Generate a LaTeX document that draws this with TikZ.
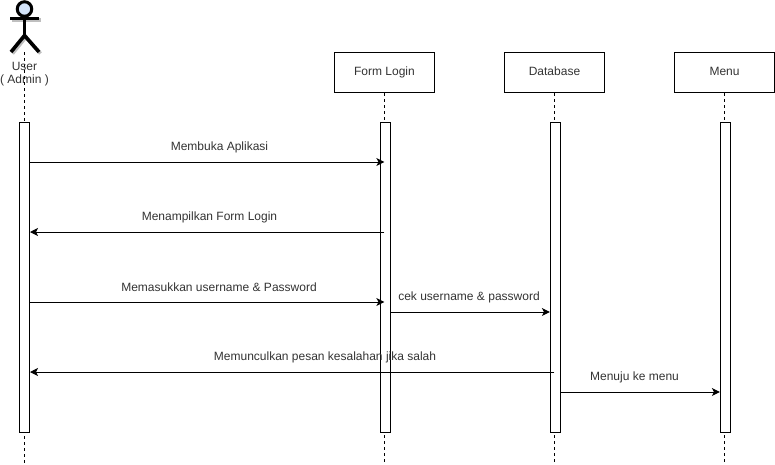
\documentclass[tikz,border=0pt]{standalone}
\usepackage{fontspec}
\setmainfont{Liberation Sans}
\usetikzlibrary{arrows.meta}

\definecolor{headblue}{HTML}{D4E4FA}
\definecolor{labelgray}{HTML}{333333}

\tikzset{
	objbox/.style={draw, line width=1pt, minimum width=100pt, minimum height=40pt, inner sep=0pt, text=labelgray, text height=8.5pt, text depth=2.5pt},
	actbar/.style={draw, fill=white, line width=1pt, minimum width=10pt, minimum height=310pt, inner sep=0pt},
	lifeline/.style={line width=1pt, dash pattern=on 3pt off 3pt},
	msg/.style={line width=1pt, -{Stealth[length=8pt, width=8pt, inset=2pt]}},
	msglabel/.style={inner sep=0pt, text=labelgray},
	stick/.style={line width=3.6pt, line cap=butt},
}

\begin{document}
\begin{tikzpicture}[x=1pt, y=-1pt, font=\fontsize{12pt}{14pt}\selectfont]

	\useasboundingbox (0,0) rectangle (775,464);

	% constants
	\pgfmathsetmacro{\barmid}{277.5};
	\pgfmathsetmacro{\lifeend}{463};

	% actor
	\begin{scope}[black!25, stick, shift={(1.5,1.5)}]
		\draw (10,18.5) -- (39,18.5);
		\draw (11,52) -- (24.5,35.5) -- (39,52);
	\end{scope}
	\node[draw, line width=3pt, fill=headblue, circle, minimum size=14.5pt, inner sep=0pt] (userhead) at (24.5,9) {};
	\coordinate (userhip) at (24.5,35.5);
	\coordinate (userfoot) at (24.5,52);
	\draw[stick] (userhead.south) -- (userhip);
	\draw[stick] (10,18.5) -- (39,18.5);
	\draw[stick] (11,52) -- (userhip) -- (39,52);

	% objects
	\node[objbox] (login) at (384.5,72.5) {Form Login};
	\node[objbox] (database) at (554.5,72.5) {Database};
	\node[objbox] (menu) at (724.5,72.5) {Menu};

	% lifelines
	\coordinate (userend) at (24.5,\lifeend);
	\coordinate (loginend) at (384.5,\lifeend);
	\coordinate (databaseend) at (554.5,\lifeend);
	\coordinate (menuend) at (724.5,\lifeend);
	\draw[lifeline] (userfoot) -- (userend);
	\draw[lifeline] (login.south) -- (loginend);
	\draw[lifeline] (database.south) -- (databaseend);
	\draw[lifeline] (menu.south) -- (menuend);

	% actor name
	\node[msglabel] (username) at (24.5,66.5) {User};
	\node[msglabel] (userrole) at (24.5,80.5) {( Admin )};

	% activation bars
	\foreach \barname/\barx in {baruser/24.5, barlogin/385.4, bardatabase/555.4, barmenu/725.4} {
		\node[actbar] (\barname) at (\barx,\barmid) {};
	}

	% messages
	\draw[msg] ([yshift=-40pt]baruser.north east) -- ([xshift=-1pt, yshift=-40pt]barlogin.north);
	\draw[msg] ([xshift=-1pt, yshift=-110pt]barlogin.north) -- ([yshift=-110pt]baruser.north east);
	\draw[msg] ([yshift=-180pt]baruser.north east) -- ([xshift=-1pt, yshift=-180pt]barlogin.north);
	\draw[msg] ([yshift=-190pt]barlogin.north east) -- ([yshift=-190pt]bardatabase.north west);
	\draw[msg] ([xshift=-1pt, yshift=-250pt]bardatabase.north) -- ([yshift=-250pt]baruser.north east);
	\draw[msg] ([yshift=-270pt]bardatabase.north east) -- ([yshift=-270pt]barmenu.north west);

	% message labels
	\node[msglabel] (openlabel) at (219.5,147) {Membuka Aplikasi};
	\node[msglabel] (showlabel) at (209.5,217) {Menampilkan Form Login};
	\node[msglabel] (enterlabel) at (219,287) {Memasukkan username \& Password};
	\node[msglabel] (checklabel) at (469,297) {cek username \& password};
	\node[msglabel] (errorlabel) at (325,357) {Memunculkan pesan kesalahan jika salah};
	\node[msglabel] (menulabel) at (634.5,377) {Menuju ke menu};

\end{tikzpicture}
\end{document}
